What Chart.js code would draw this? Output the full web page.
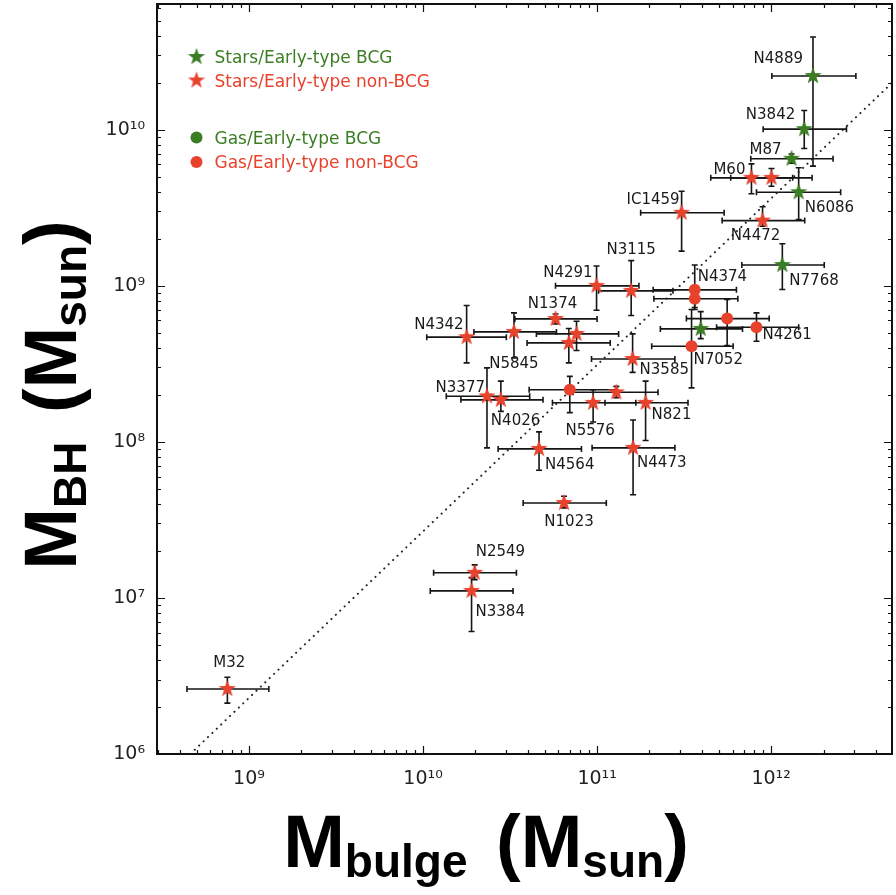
<!DOCTYPE html>
<html>
<head>
<meta charset="utf-8">
<title>M_BH vs M_bulge</title>
<script src="https://cdn.jsdelivr.net/npm/chart.js@4.4.1/dist/chart.umd.min.js"></script>
<style>
    html, body { margin: 0; padding: 0; background: #fff; }
    #wrap { width: 896px; height: 895px; }
</style>
</head>
<body>
<div id="wrap"><canvas id="chart-area" width="896" height="895"></canvas></div>
<script>
// ---- data ----
// stars, early-type BCG
var starsBcgNames  = ['N4889', 'N3842', 'M87', 'N6086', 'N7768', ''];
var starsBcgMass   = [1.74e12, 1.55e12, 1.31e12, 1.44e12, 1.16e12, 3.94e11];
var starsBcgMassLo = [1.01e12, 9.0e11, 7.64e11, 8.24e11, 6.79e11, 2.31e11];
var starsBcgMassHi = [3.07e12, 2.71e12, 2.27e12, 2.51e12, 2.02e12, 6.85e11];
var starsBcgBH     = [2.21e10, 1.01e10, 6.52e9, 3.98e9, 1.36e9, 5.30e8];
var starsBcgBHLo   = [5.85e9, 7.59e9, 6.1e9, 2.66e9, 9.47e8, 4.59e8];
var starsBcgBHHi   = [3.93e10, 1.33e10, 7.0e9, 5.71e9, 1.86e9, 6.84e8];

// stars, early-type non-BCG
var starsNonNames  = ['M60', '', 'N4472', 'IC1459', 'N3115', 'N4291', 'N1374', 'N4342', 'N5845', '', '',
                      'N3585', 'N3377', 'N4026', '', 'N5576', 'N821', 'N4564', 'N4473', 'N1023', 'N2549', 'N3384', 'M32'];
var starsNonMass   = [7.71e11, 1.005e12, 8.93e11, 3.06e11, 1.57e11, 9.93e10, 5.77e10, 1.78e10, 3.33e10, 7.62e10, 6.88e10,
                      1.60e11, 2.33e10, 2.80e10, 1.29e11, 9.49e10, 1.90e11, 4.64e10, 1.61e11, 6.46e10, 1.98e10, 1.90e10, 7.51e8];
var starsNonMassLo = [4.50e11, 5.86e11, 5.23e11, 1.78e11, 1.02e11, 5.77e10, 3.37e10, 1.05e10, 1.96e10, 4.48e10, 3.96e10,
                      9.29e10, 1.36e10, 1.65e10, 7.28e10, 5.54e10, 1.11e11, 2.70e10, 9.36e10, 3.76e10, 1.15e10, 1.10e10, 4.40e8];
var starsNonMassHi = [1.33e12, 1.72e12, 1.56e12, 5.37e11, 2.73e11, 1.74e11, 1.0e11, 3.01e10, 5.84e10, 1.33e11, 1.19e11,
                      2.80e11, 4.10e10, 4.89e10, 2.24e11, 1.67e11, 3.33e11, 8.13e10, 2.80e11, 1.13e11, 3.44e10, 3.29e10, 1.30e9];
var starsNonBH     = [4.92e9, 4.92e9, 2.62e9, 2.94e9, 9.29e8, 1.00e9, 6.14e8, 4.69e8, 5.07e8, 4.92e8, 4.31e8,
                      3.40e8, 1.96e8, 1.86e8, 2.08e8, 1.78e8, 1.78e8, 9.02e7, 9.16e7, 4.06e7, 1.45e7, 1.11e7, 2.61e6];
var starsNonBHLo   = [3.89e9, 4.35e9, 2.41e9, 1.67e9, 6.45e8, 6.98e8, 5.7e8, 3.21e8, 3.45e8, 3.85e8, 3.21e8,
                      2.79e8, 9.16e7, 1.57e8, 1.92e8, 1.34e8, 1.02e8, 6.58e7, 4.59e7, 3.78e7, 1.31e7, 6.1e6, 2.12e6];
var starsNonBHHi   = [6.05e9, 5.65e9, 3.21e9, 4.04e9, 1.45e9, 1.34e9, 6.6e8, 7.48e8, 6.71e8, 5.93e8, 5.33e8,
                      4.92e8, 2.98e8, 2.45e8, 2.27e8, 2.16e8, 2.45e8, 1.16e8, 1.38e8, 4.48e7, 1.63e7, 1.35e7, 3.10e6];

// gas, early-type BCG (none in this sample)
var gasBcgNames = [], gasBcgMass = [], gasBcgMassLo = [], gasBcgMassHi = [], gasBcgBH = [], gasBcgBHLo = [], gasBcgBHHi = [];

// gas, early-type non-BCG
var gasNonNames  = ['N4374', '', 'N7052', '', 'N4261', ''];
var gasNonMass   = [3.64e11, 3.64e11, 3.49e11, 5.59e11, 8.24e11, 6.97e10];
var gasNonMassLo = [2.10e11, 2.12e11, 2.06e11, 3.26e11, 4.86e11, 4.07e10];
var gasNonMassHi = [6.32e11, 6.44e11, 6.05e11, 9.75e11, 1.44e12, 1.30e11];
var gasNonBH     = [9.43e8, 8.26e8, 4.10e8, 6.17e8, 5.43e8, 2.16e8];
var gasNonBHLo   = [7.05e8, 7.26e8, 2.22e8, 4.14e8, 4.42e8, 1.54e8];
var gasNonBHHi   = [1.36e9, 9.19e8, 7.05e8, 8.17e8, 6.71e8, 2.63e8];

// dotted relation
var fitMass = [4.6e8, 4.95e12];
var fitBH   = [1.0e6, 2.0e10];

// axis limits
var massRange = [2.96e8, 4.95e12];
var bhRange   = [1.0e6, 6.4e10];

// label placement next to each galaxy (pixel offsets, alignment)
var labelPlacement = {
    N4889: [-10, -17, 'right'], N3842: [-9, -14, 'right'], M87: [-10, -9, 'right'], M60: [-6, -8, 'right'],
    N6086: [6, 16, 'left'], N4472: [-7, 16, 'center'], IC1459: [-2, -13, 'right'], N7768: [7, 16, 'left'],
    N3115: [0, -41, 'center'], N4291: [-4, -13, 'right'], N4374: [3, -13, 'left'], N1374: [-3, -15, 'center'],
    N4342: [-3, -12, 'right'], N5845: [0, 32, 'center'], N3377: [-2, -8, 'right'], N4026: [-10, 21, 'left'],
    N5576: [-3, 28, 'center'], N821: [6, 12, 'left'], N3585: [7, 11, 'left'], N4564: [6, 16, 'left'],
    N4473: [4, 15, 'left'], N1023: [5, 19, 'center'], N2549: [1, -21, 'left'], N3384: [4, 21, 'left'],
    M32: [2, -26, 'center'], N7052: [2, 14, 'left'], N4261: [6, 8, 'left']
};

var GREEN = '#3a7d22';
var RED = '#e8412c';

function makeStar(color, r) {
    var c = document.createElement('canvas');
    var s = Math.ceil(r * 2 + 2);
    c.width = s;
    c.height = s;
    var g = c.getContext('2d');
    g.translate(s / 2, s / 2);
    g.beginPath();
    for (var i = 0; i < 10; i++) {
        var rr = i % 2 === 0 ? r : r * 0.4;
        var a = -Math.PI / 2 + i * Math.PI / 5;
        g.lineTo(rr * Math.cos(a), rr * Math.sin(a));
    }
    g.closePath();
    g.fillStyle = color;
    g.fill();
    return c;
}

var greenStar = makeStar(GREEN, 9);
var redStar = makeStar(RED, 9);

function toPoints(names, mass, massLo, massHi, bh, bhLo, bhHi) {
    return mass.map(function (m, i) {
        return { x: m, y: bh[i], name: names[i], xLo: massLo[i], xHi: massHi[i], yLo: bhLo[i], yHi: bhHi[i] };
    });
}

var SUP = { '0': '\u2070', '1': '\u00b9', '2': '\u00b2', '3': '\u00b3', '4': '\u2074', '5': '\u2075',
            '6': '\u2076', '7': '\u2077', '8': '\u2078', '9': '\u2079', '-': '\u207b' };

function powerLabel(v) {
    var e = Math.log10(v);
    if (Math.abs(e - Math.round(e)) > 1e-6) {
        return '';
    }
    return '10' + String(Math.round(e)).split('').map(function (c) { return SUP[c]; }).join('');
}

function decadeTicks(scale) {
    var list = [];
    var e0 = Math.floor(Math.log10(scale.min));
    var e1 = Math.ceil(Math.log10(scale.max));
    for (var e = e0; e <= e1; e++) {
        for (var k = 1; k < 10; k++) {
            var v = k * Math.pow(10, e);
            if (v >= scale.min * 0.9999 && v <= scale.max * 1.0001) {
                list.push({ value: v, major: k === 1 });
            }
        }
    }
    scale.ticks = list;
}

// error bars under the markers
var errorBarPlugin = {
    id: 'errorBars',
    beforeDatasetsDraw: function (chart) {
        var ctx = chart.ctx, xs = chart.scales.x, ys = chart.scales.y;
        var cap = 3;
        ctx.save();
        ctx.strokeStyle = '#151515';
        ctx.lineWidth = 1.6;
        chart.data.datasets.forEach(function (ds) {
            if (!ds.errorBars) return;
            ds.data.forEach(function (p) {
                var px = xs.getPixelForValue(p.x), py = ys.getPixelForValue(p.y);
                var x0 = xs.getPixelForValue(p.xLo), x1 = xs.getPixelForValue(p.xHi);
                var y0 = ys.getPixelForValue(p.yLo), y1 = ys.getPixelForValue(p.yHi);
                ctx.beginPath();
                ctx.moveTo(x0, py); ctx.lineTo(x1, py);
                ctx.moveTo(px, y0); ctx.lineTo(px, y1);
                ctx.moveTo(x0, py - cap); ctx.lineTo(x0, py + cap);
                ctx.moveTo(x1, py - cap); ctx.lineTo(x1, py + cap);
                ctx.moveTo(px - cap, y0); ctx.lineTo(px + cap, y0);
                ctx.moveTo(px - cap, y1); ctx.lineTo(px + cap, y1);
                ctx.stroke();
            });
        });
        ctx.restore();
    }
};

// galaxy names
var pointLabelPlugin = {
    id: 'pointLabels',
    afterDatasetsDraw: function (chart) {
        var ctx = chart.ctx, xs = chart.scales.x, ys = chart.scales.y;
        ctx.save();
        ctx.font = '15px "DejaVu Sans"';
        ctx.fillStyle = '#1a1a1a';
        ctx.textBaseline = 'middle';
        chart.data.datasets.forEach(function (ds) {
            if (!ds.errorBars) return;
            ds.data.forEach(function (p) {
                var pl = labelPlacement[p.name];
                if (!p.name || !pl) return;
                ctx.textAlign = pl[2];
                ctx.fillText(p.name, xs.getPixelForValue(p.x) + pl[0], ys.getPixelForValue(p.y) + pl[1]);
            });
        });
        ctx.restore();
    }
};

// frame, inward ticks, legend, axis titles
var framePlugin = {
    id: 'frame',
    afterDraw: function (chart) {
        var ctx = chart.ctx, a = chart.chartArea, xs = chart.scales.x, ys = chart.scales.y;
        ctx.save();
        ctx.strokeStyle = '#111';
        ctx.lineWidth = 1.2;
        ctx.beginPath();
        xs.ticks.forEach(function (t) {
            var px = Math.round(xs.getPixelForValue(t.value)) + 0.5;
            var len = t.major ? 8 : 4;
            ctx.moveTo(px, a.bottom); ctx.lineTo(px, a.bottom - len);
            ctx.moveTo(px, a.top); ctx.lineTo(px, a.top + len);
        });
        ys.ticks.forEach(function (t) {
            var py = Math.round(ys.getPixelForValue(t.value)) + 0.5;
            var len = t.major ? 8 : 4;
            ctx.moveTo(a.left, py); ctx.lineTo(a.left + len, py);
            ctx.moveTo(a.right, py); ctx.lineTo(a.right - len, py);
        });
        ctx.stroke();
        ctx.lineWidth = 2;
        ctx.strokeRect(a.left, a.top, a.right - a.left, a.bottom - a.top);

        // legend
        var rows = [53, 76.5, 133.5, 158];
        ctx.font = '17px "DejaVu Sans"';
        ctx.textBaseline = 'middle';
        ctx.textAlign = 'left';
        chart.data.datasets.forEach(function (ds, i) {
            if (!ds.errorBars) return;
            var mx = a.left + 39.5, my = a.top + rows[i];
            if (ds.pointStyle && typeof ds.pointStyle === 'object') {
                ctx.drawImage(ds.pointStyle, mx - ds.pointStyle.width / 2, my - ds.pointStyle.height / 2);
            } else {
                ctx.beginPath();
                ctx.arc(mx, my, 6, 0, Math.PI * 2);
                ctx.fillStyle = ds.backgroundColor;
                ctx.fill();
            }
            ctx.fillStyle = ds.backgroundColor;
            ctx.fillText(ds.label, a.left + 57.5, my + 2);
        });

        // axis titles with subscripts
        var big = 'bold 74px "Liberation Sans", Arial, sans-serif';
        var small = 'bold 46px "Liberation Sans", Arial, sans-serif';
        ctx.fillStyle = '#000';
        ctx.textBaseline = 'alphabetic';
        drawRich(ctx, [['M', big, 0, 0], ['bulge', small, 10, 8], [' (M', big, 0, 0], ['sun', small, 10, 0], [')', big, 0, 0]], 486, 867);
        ctx.translate(76, 395);
        ctx.rotate(-Math.PI / 2);
        drawRich(ctx, [['M', big, 0, 0], ['BH', small, 10, 8], [' (M', big, 0, 0], ['sun', small, 10, 0], [')', big, 0, 0]], 0, 0);
        ctx.restore();
    }
};

// parts: [text, font, baseline shift, extra gap after]
function drawRich(ctx, parts, cx, y) {
    var total = 0;
    parts.forEach(function (p) { ctx.font = p[1]; total += ctx.measureText(p[0]).width + p[3]; });
    var x = cx - total / 2;
    ctx.textAlign = 'left';
    parts.forEach(function (p) {
        ctx.font = p[1];
        ctx.fillText(p[0], x, y + p[2]);
        x += ctx.measureText(p[0]).width + p[3];
    });
}

var config = {
    type: 'scatter',
    data: {
        datasets: [{
                label: 'Stars/Early-type BCG',
                data: toPoints(starsBcgNames, starsBcgMass, starsBcgMassLo, starsBcgMassHi, starsBcgBH, starsBcgBHLo, starsBcgBHHi),
                pointStyle: greenStar,
                pointRadius: 9,
                backgroundColor: GREEN,
                errorBars: true,
                order: 1
            }, {
                label: 'Stars/Early-type non-BCG',
                data: toPoints(starsNonNames, starsNonMass, starsNonMassLo, starsNonMassHi, starsNonBH, starsNonBHLo, starsNonBHHi),
                pointStyle: redStar,
                pointRadius: 9,
                backgroundColor: RED,
                errorBars: true,
                order: 2
            }, {
                label: 'Gas/Early-type BCG',
                data: toPoints(gasBcgNames, gasBcgMass, gasBcgMassLo, gasBcgMassHi, gasBcgBH, gasBcgBHLo, gasBcgBHHi),
                pointStyle: 'circle',
                pointRadius: 6,
                borderWidth: 0,
                backgroundColor: GREEN,
                errorBars: true,
                order: 3
            }, {
                label: 'Gas/Early-type non-BCG',
                data: toPoints(gasNonNames, gasNonMass, gasNonMassLo, gasNonMassHi, gasNonBH, gasNonBHLo, gasNonBHHi),
                pointStyle: 'circle',
                pointRadius: 6,
                borderWidth: 0,
                backgroundColor: RED,
                errorBars: true,
                order: 4
            }, {
                type: 'line',
                label: 'relation',
                data: fitMass.map(function (m, i) { return { x: m, y: fitBH[i] }; }),
                borderColor: '#222',
                borderWidth: 2,
                borderDash: [0.1, 6],
                borderCapStyle: 'round',
                pointRadius: 0,
                fill: false,
                order: 10
            }]
    },
    options: {
        responsive: false,
        animation: false,
        devicePixelRatio: 1,
        layout: { autoPadding: false, padding: { top: 4, right: 4, left: 0, bottom: 0 } },
        plugins: {
            legend: { display: false },
            tooltip: { enabled: false }
        },
        scales: {
            x: {
                type: 'logarithmic',
                position: 'bottom',
                min: massRange[0],
                max: massRange[1],
                afterBuildTicks: decadeTicks,
                afterFit: function (scale) {
                    scale.height = 141;
                    scale.paddingLeft = 0;
                    scale.paddingRight = 0;
                },
                grid: { display: false, drawTicks: false },
                border: { display: false },
                ticks: {
                    autoSkip: false,
                    maxRotation: 0,
                    minRotation: 0,
                    padding: 14,
                    color: '#222',
                    font: { family: 'DejaVu Sans', size: 19 },
                    callback: function (v) { return powerLabel(v); }
                }
            },
            y: {
                type: 'logarithmic',
                min: bhRange[0],
                max: bhRange[1],
                afterBuildTicks: decadeTicks,
                afterFit: function (scale) {
                    scale.width = 157;
                    scale.paddingTop = 0;
                    scale.paddingBottom = 0;
                },
                grid: { display: false, drawTicks: false },
                border: { display: false },
                ticks: {
                    autoSkip: false,
                    padding: 12,
                    color: '#222',
                    font: { family: 'DejaVu Sans', size: 19 },
                    callback: function (v) { return powerLabel(v); }
                }
            }
        }
    },
    plugins: [errorBarPlugin, pointLabelPlugin, framePlugin]
};

var ctx = document.getElementById('chart-area').getContext('2d');
var myChart = new Chart(ctx, config);
</script>
</body>
</html>
